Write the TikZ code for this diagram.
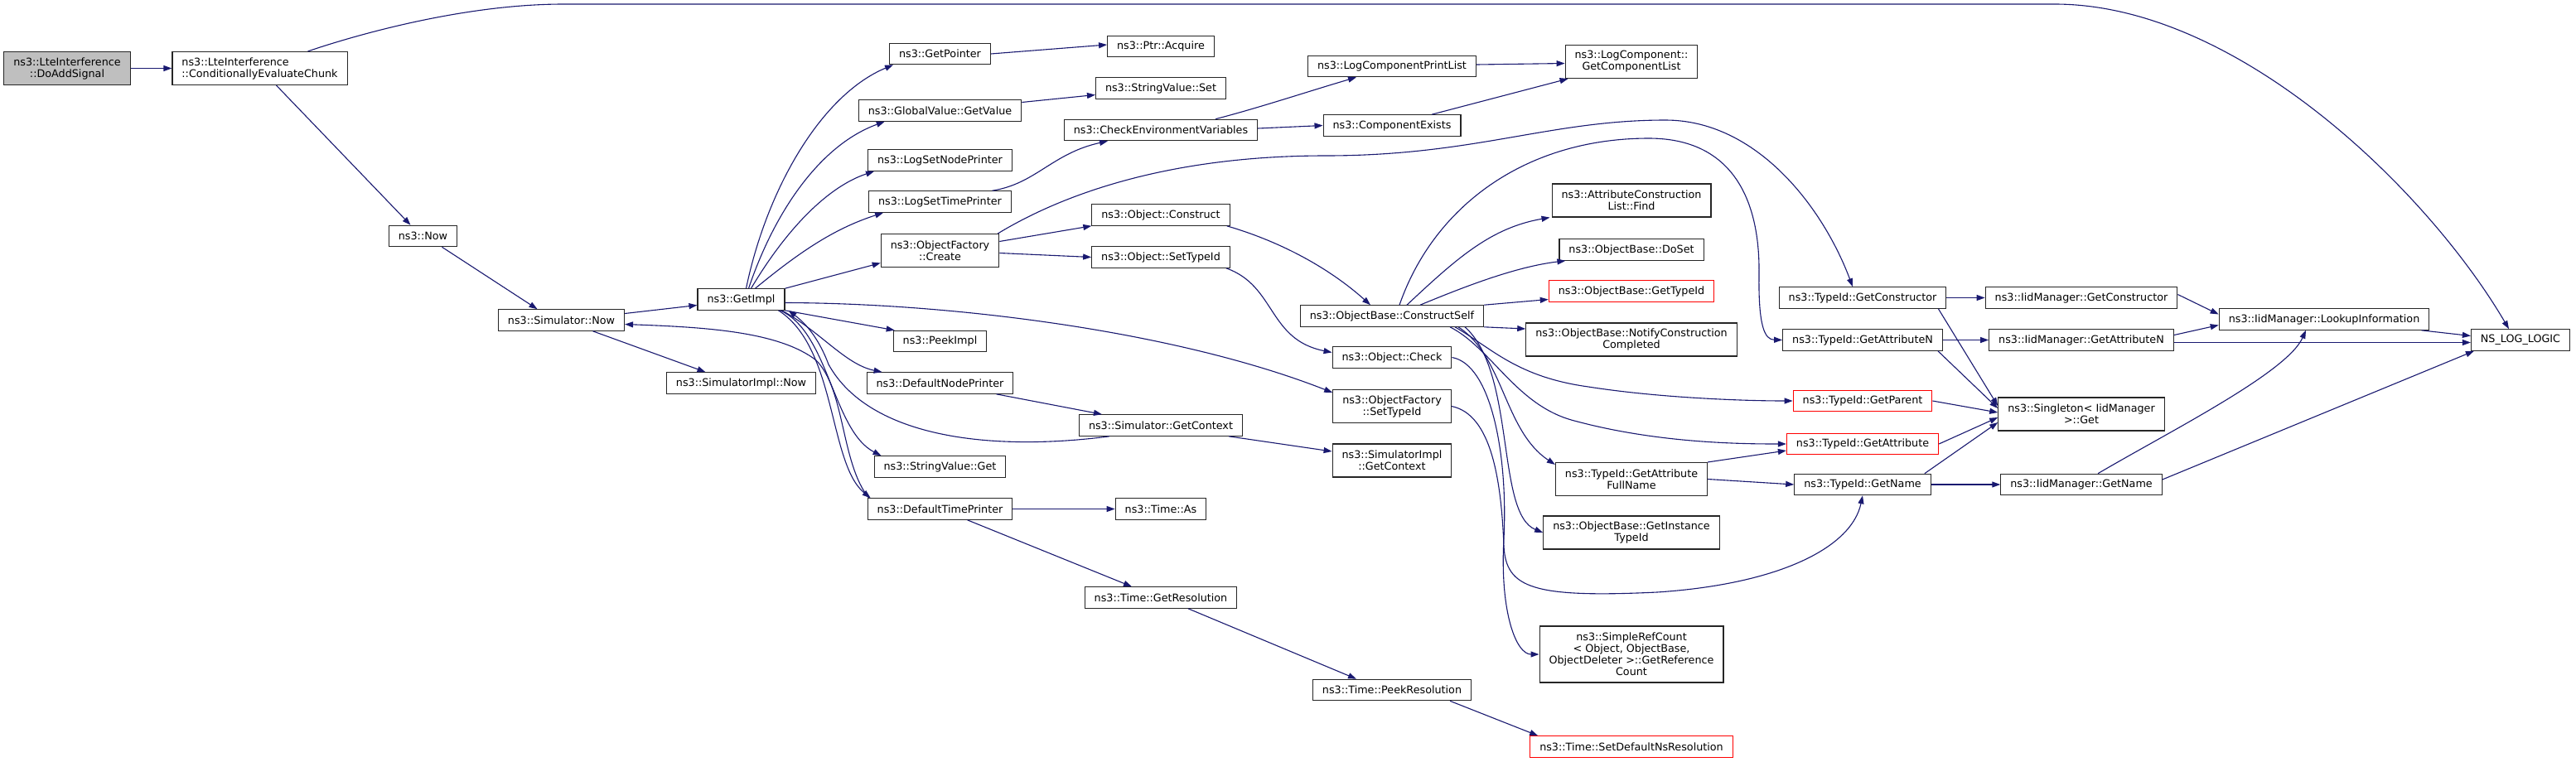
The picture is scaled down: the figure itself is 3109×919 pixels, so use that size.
\documentclass[tikz,border=0pt]{standalone}
\usepackage{fontspec}
\setmainfont{DejaVu Sans}
\usetikzlibrary{arrows.meta}
\definecolor{edgec}{HTML}{191970}
\definecolor{boxgray}{HTML}{BFBFBF}
\begin{document}
\begin{tikzpicture}[x=1pt,y=-1pt,
  fn/.style={draw=black!85, line width=1.1pt, fill=white, inner xsep=11.5pt, inner ysep=0pt,
    minimum height=25.5pt, font=\fontsize{12.75}{14}\selectfont, align=center},
  two/.style={minimum height=40pt},
  four/.style={minimum height=68pt},
  trunc/.style={draw=red},
  e/.style={draw=edgec, line width=1.1pt, -{Triangle[length=10pt,width=7pt]}},
]
\useasboundingbox (0,0) rectangle (3109,919);
\fill[white] (0,0) rectangle (3109,919);
% rank 0-4
\node[fn,two,fill=boxgray] (n0) at (81,82.5) {ns3::LteInterference\\::DoAddSignal};
\node[fn,two,align=left] (n1) at (313.5,82.5) {ns3::LteInterference\\::ConditionallyEvaluateChunk};
\node[fn] (nnow) at (510.5,285) {ns3::Now};
\node[fn] (nsn) at (677.5,386.5) {ns3::Simulator::Now};
\node[fn] (ngi) at (894.5,361.5) {ns3::GetImpl};
\node[fn] (nsin) at (894.5,462.5) {ns3::SimulatorImpl::Now};
% rank 5
\node[fn] (ngp) at (1134.5,65) {ns3::GetPointer};
\node[fn] (ngv) at (1134.5,133.5) {ns3::GlobalValue::GetValue};
\node[fn] (nlsnp) at (1134.5,193.5) {ns3::LogSetNodePrinter};
\node[fn] (nlstp) at (1134.5,243.5) {ns3::LogSetTimePrinter};
\node[fn,two] (ncreate) at (1134.5,302.5) {ns3::ObjectFactory\\::Create};
\node[fn] (npeek) at (1134.5,412) {ns3::PeekImpl};
\node[fn] (ndnp) at (1134.5,462.5) {ns3::DefaultNodePrinter};
\node[fn] (nsvg) at (1134.5,563.5) {ns3::StringValue::Get};
\node[fn] (ndtp) at (1134.5,614.5) {ns3::DefaultTimePrinter};
% rank 6
\node[fn] (nacq) at (1401,56) {ns3::Ptr::Acquire};
\node[fn] (nsvs) at (1401,106.5) {ns3::StringValue::Set};
\node[fn] (nce) at (1401,157) {ns3::CheckEnvironmentVariables};
\node[fn] (ncons) at (1401,259.5) {ns3::Object::Construct};
\node[fn] (nost) at (1401,310.5) {ns3::Object::SetTypeId};
\node[fn] (nsgc) at (1401,513.5) {ns3::Simulator::GetContext};
\node[fn] (nas) at (1401,614.5) {ns3::Time::As};
\node[fn] (ngr) at (1401,721.5) {ns3::Time::GetResolution};
% rank 7
\node[fn] (nlcpl) at (1680,80) {ns3::LogComponentPrintList};
\node[fn] (nexists) at (1680,151.5) {ns3::ComponentExists};
\node[fn] (ncs) at (1680,381.5) {ns3::ObjectBase::ConstructSelf};
\node[fn] (ncheck) at (1680,431.5) {ns3::Object::Check};
\node[fn,two] (nofst) at (1680,490.5) {ns3::ObjectFactory\\::SetTypeId};
\node[fn,two] (nsigc) at (1680,556) {ns3::SimulatorImpl\\::GetContext};
\node[fn] (npr) at (1680,833) {ns3::Time::PeekResolution};
% rank 8
\node[fn,two] (ngcl) at (1969,74.5) {ns3::LogComponent::\\GetComponentList};
\node[fn,two] (nfind) at (1969,242) {ns3::AttributeConstruction\\List::Find};
\node[fn] (ndoset) at (1969,301.5) {ns3::ObjectBase::DoSet};
\node[fn,trunc] (ngti) at (1969,351.5) {ns3::ObjectBase::GetTypeId};
\node[fn,two] (nnotify) at (1969,410) {ns3::ObjectBase::NotifyConstruction\\Completed};
\node[fn,two] (nfull) at (1969,578.5) {ns3::TypeId::GetAttribute\\FullName};
\node[fn,two] (ngit) at (1969,643) {ns3::ObjectBase::GetInstance\\TypeId};
\node[fn,four] (nsrc) at (1969,790) {ns3::SimpleRefCount\\< Object, ObjectBase,\\ObjectDeleter >::GetReference\\Count};
\node[fn,trunc] (nsdr) at (1969,901.5) {ns3::Time::SetDefaultNsResolution};
% rank 9
\node[fn] (ntgc) at (2248,359.5) {ns3::TypeId::GetConstructor};
\node[fn] (ntgan) at (2248,410.5) {ns3::TypeId::GetAttributeN};
\node[fn,trunc] (ntgp) at (2248,484) {ns3::TypeId::GetParent};
\node[fn,trunc] (ntga) at (2248,536) {ns3::TypeId::GetAttribute};
\node[fn] (ntgn) at (2248,585) {ns3::TypeId::GetName};
% rank 10
\node[fn] (nigc) at (2512,359.5) {ns3::IidManager::GetConstructor};
\node[fn] (nigan) at (2512,410.5) {ns3::IidManager::GetAttributeN};
\node[fn,two] (nsing) at (2512,500) {ns3::Singleton< IidManager\\>::Get};
\node[fn] (nign) at (2512,585) {ns3::IidManager::GetName};
% rank 11-12
\node[fn] (nlook) at (2805,385.5) {ns3::IidManager::LookupInformation};
\node[fn] (nlog) at (3042,410.5) {NS\_LOG\_LOGIC};

% ---- edges
\draw[e] (n0.east) -- (n1.west);
\draw[e] ([xshift=58pt]n1.north) .. controls (430,42) and (560,5) .. (680,5) -- (2480,5) .. controls (2700,5) and (2930,230) .. ([xshift=-14pt]nlog.north);
\draw[e] ([xshift=20pt]n1.south) -- ([xshift=-15pt]nnow.north);
\draw[e] ([xshift=23pt]nnow.south) -- ([xshift=-29pt]nsn.north);
\draw[e] ([yshift=8pt]nsn.east) -- ([yshift=-7pt]ngi.west);
\draw[e] ([xshift=38pt]nsn.south) -- ([xshift=-43pt]nsin.north);
\draw[e] ([xshift=2pt]ndtp.north west) .. controls (1015,560) and (1020,470) .. (985,435) .. controls (940,400) and (850,395) .. ([yshift=-5pt]nsn.east);
% GetImpl fan
\draw[e] ([xshift=6pt]ngi.north) .. controls (925,230) and (990,115) .. ([xshift=5pt]ngp.south west);
\draw[e] ([xshift=9pt]ngi.north) .. controls (935,255) and (990,175) .. ([xshift=32pt]ngv.south west);
\draw[e] ([xshift=12pt]ngi.north) .. controls (950,275) and (1000,225) .. ([xshift=8pt]nlsnp.south west);
\draw[e] ([xshift=17pt]ngi.north) .. controls (970,300) and (1010,275) .. ([xshift=18pt]nlstp.south west);
\draw[e] (ngi.north east) -- ([yshift=-15pt]ncreate.west);
\draw[e] ([yshift=-4pt]ngi.east) .. controls (1150,366) and (1420,400) .. ([yshift=-4pt]nofst.north west);
\draw[e] (ngi.south east) -- ([xshift=2pt]npeek.north west);
\draw[e] ([xshift=-4pt]ngi.south east) .. controls (990,400) and (1020,440) .. ([xshift=19pt]ndnp.north west);
\draw[e] ([xshift=-6pt]ngi.south east) .. controls (1000,400) and (1005,520) .. ([xshift=9pt]nsvg.north west);
\draw[e] ([xshift=-8pt]ngi.south east) .. controls (1010,420) and (1000,560) .. ([xshift=4pt]ndtp.north west);
\draw[e] ([xshift=-62pt]nsgc.south) .. controls (1200,545) and (1050,530) .. (1000,440) .. controls (985,400) and (965,385) .. ([xshift=4pt]ngi.south east);
% rank 5 -> 6
\draw[e] (ngp.east) -- ([yshift=2pt]nacq.west);
\draw[e] ([yshift=10pt]ngv.east) -- ([yshift=-8pt]nsvs.west);
\draw[e] ([xshift=63pt]nlstp.north) .. controls (1250,222) and (1270,185) .. ([xshift=-64pt]nce.south);
\draw[e] ([yshift=11pt]ncreate.east) -- (ncons.south west);
\draw[e] ([yshift=-3pt]ncreate.east) -- (nost.west);
\draw[e] ([xshift=-2pt]ncreate.north east) .. controls (1290,230) and (1420,188) .. (1600,188) .. controls (1780,188) and (1870,145) .. (2010,145) .. controls (2120,145) and (2200,250) .. ([xshift=-12pt]ntgc.north);
\draw[e] ([xshift=-21pt]ndnp.south east) -- ([xshift=28pt]nsgc.north west);
\draw[e] (ndtp.east) -- (nas.west);
\draw[e] ([xshift=33pt]ndtp.south) -- ([xshift=-35pt]ngr.north);
% rank 6 -> 7
\draw[e] ([xshift=66pt]nce.north) .. controls (1520,130) and (1580,110) .. ([xshift=-43pt]nlcpl.south);
\draw[e] ([yshift=2pt]nce.east) -- (nexists.west);
\draw[e] ([xshift=-4pt]ncons.south east) .. controls (1540,290) and (1600,320) .. ([xshift=-26pt]ncs.north);
\draw[e] ([xshift=-5pt]nost.south east) .. controls (1540,345) and (1530,410) .. ([yshift=6pt]ncheck.west);
\draw[e] ([xshift=-17pt]nsgc.south east) -- ([yshift=11pt]nsigc.west);
\draw[e] ([xshift=33pt]ngr.south) -- ([xshift=-43pt]npr.north);
% rank 7 -> 8
\draw[e] ([yshift=2pt]nlcpl.east) -- ([yshift=-2pt]ngcl.west);
\draw[e] ([xshift=48pt]nexists.north) -- ([xshift=4pt]ngcl.south west);
\draw[e] ([xshift=18pt]ncs.north) .. controls (1760,310) and (1800,275) .. ([xshift=-2pt]nfind.south west);
\draw[e] ([xshift=34pt]ncs.north) .. controls (1770,345) and (1830,322) .. ([xshift=8pt]ndoset.south west);
\draw[e] (ncs.north east) -- ([yshift=-10pt]ngti.west);
\draw[e] (ncs.south east) -- ([yshift=13pt]nnotify.west);
\draw[e] ([xshift=9pt]ncs.north) .. controls (1730,250) and (1840,167) .. (1990,167) .. controls (2090,167) and (2124,240) .. (2123,330) .. controls (2122,395) and (2130,410) .. (ntgan.west);
\draw[e] ([xshift=76pt]ncs.south) .. controls (1800,420) and (1830,455) .. (1917,467) .. controls (2000,480) and (2100,484) .. (ntgp.west);
\draw[e] ([xshift=70pt]ncs.south) .. controls (1800,420) and (1830,490) .. (1900,508) .. controls (2000,535) and (2100,536) .. (ntga.west);
\draw[e] ([xshift=80pt]ncs.south) .. controls (1815,430) and (1815,520) .. ([yshift=-3pt]nfull.north west);
\draw[e] ([xshift=88pt]ncs.south) .. controls (1830,450) and (1805,620) .. (ngit.west);
\draw[e] (ncheck.east) .. controls (1800,440) and (1820,550) .. (1815,650) .. controls (1810,740) and (1830,790) .. (nsrc.west);
\draw[e] (nofst.east) .. controls (1800,500) and (1812,580) .. (1815,660) .. controls (1818,710) and (1850,722) .. (2000,715) .. controls (2150,705) and (2235,660) .. (ntgn.south);
\draw[e] ([xshift=70pt]npr.south) -- ([xshift=10pt]nsdr.north west);
% rank 8 -> 9
\draw[e] (nfull.north east) -- ([yshift=-8pt]ntga.west);
\draw[e] (nfull.east) -- (ntgn.west);
% rank 9 -> 10
\draw[e] (ntgc.east) -- (nigc.west);
\draw[e] ([xshift=-10pt]ntgc.south east) -- ([yshift=10pt]nsing.west);
\draw[e] (ntgan.east) -- (nigan.west);
\draw[e] ([xshift=-6pt]ntgan.south east) -- ([yshift=7pt]nsing.west);
\draw[e] (ntgp.east) -- ([yshift=2pt]nsing.west);
\draw[e] (ntga.east) -- ([yshift=-4pt]nsing.west);
\draw[e] (ntgn.east) -- (nign.west);
\draw[e] ([xshift=-8pt]ntgn.north east) -- ([yshift=-10pt]nsing.west);
% rank 10 -> 12
\draw[e] ([yshift=4pt]nigc.east) -- ([yshift=6pt]nlook.west);
\draw[e] ([yshift=6pt]nigan.east) -- ([yshift=-7pt]nlook.west);
\draw[e] ([yshift=-3pt]nigan.east) -- ([yshift=-3pt]nlog.west);
\draw[e] ([xshift=20pt]nign.north) .. controls (2620,520) and (2760,450) .. ([xshift=-22pt]nlook.south);
\draw[e] ([yshift=6pt]nign.east) -- ([xshift=4pt]nlog.south west);
\draw[e] ([xshift=-10pt]nlook.south east) -- ([yshift=5pt]nlog.west);
\end{tikzpicture}
\end{document}
